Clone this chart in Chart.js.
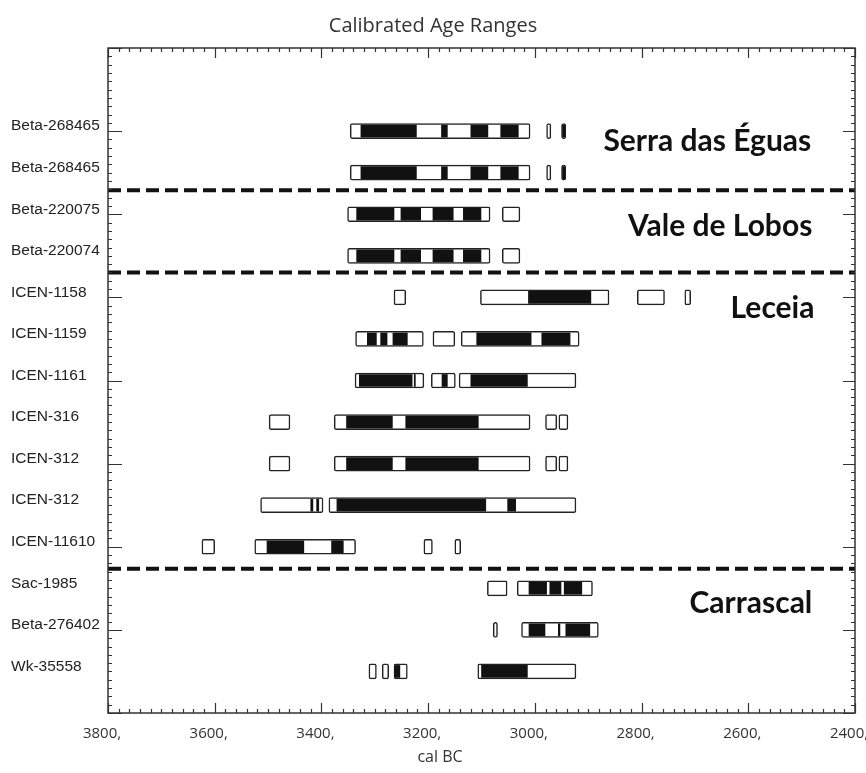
<!DOCTYPE html>
<html>
<head>
<meta charset="utf-8">
<title>Calibrated Age Ranges</title>
<script src="https://cdn.jsdelivr.net/npm/chart.js@4.4.1/dist/chart.umd.min.js"></script>
<style>
  html, body { margin: 0; padding: 0; background: #fff; }
  #wrap { width: 866px; height: 773px; }
</style>
</head>
<body>
<div id="wrap"><canvas id="chart" width="866" height="773"></canvas></div>
<script>
// Laboratory codes, top to bottom
const samples = [
  'Beta-268465', 'Beta-268465', 'Beta-220075', 'Beta-220074',
  'ICEN-1158', 'ICEN-1159', 'ICEN-1161', 'ICEN-316', 'ICEN-312',
  'ICEN-312', 'ICEN-11610', 'Sac-1985', 'Beta-276402', 'Wk-35558'
];

// 2-sigma calibrated ranges (cal BC), one list per sample
const twoSigma = [
  [[3346, 3009], [2978, 2970], [2950, 2942]],
  [[3346, 3009], [2978, 2970], [2950, 2942]],
  [[3351, 3084], [3061, 3028]],
  [[3351, 3084], [3061, 3028]],
  [[3264, 3242], [3102, 2861], [2808, 2757], [2719, 2708]],
  [[3336, 3209], [3191, 3150], [3138, 2917]],
  [[3337, 3208], [3194, 3149], [3142, 2923]],
  [[3498, 3459], [3376, 3009], [2980, 2959], [2955, 2938]],
  [[3498, 3459], [3376, 3009], [2980, 2959], [2955, 2938]],
  [[3514, 3397], [3386, 2923]],
  [[3624, 3600], [3525, 3336], [3208, 3192], [3150, 3139]],
  [[3089, 3052], [3033, 2892]],
  [[3078, 3070], [3025, 2881]],
  [[3311, 3297], [3286, 3274], [3264, 3239], [3107, 2923]]
];

// 1-sigma calibrated ranges (cal BC), one list per sample
const oneSigma = [
  [[3326, 3222], [3175, 3164], [3120, 3088], [3064, 3031], [2948, 2944]],
  [[3326, 3222], [3175, 3164], [3120, 3088], [3064, 3031], [2948, 2944]],
  [[3334, 3264], [3251, 3214], [3191, 3153], [3134, 3101]],
  [[3334, 3264], [3251, 3214], [3191, 3153], [3134, 3101]],
  [[3012, 2895]],
  [[3314, 3297], [3289, 3277], [3266, 3239], [3109, 3007], [2987, 2934]],
  [[3329, 3230], [3226, 3224], [3174, 3164], [3120, 3014]],
  [[3353, 3267], [3242, 3106]],
  [[3353, 3267], [3242, 3106]],
  [[3420, 3416], [3409, 3405], [3371, 3092], [3051, 3036]],
  [[3502, 3433], [3381, 3359]],
  [[3011, 2978], [2972, 2951], [2945, 2912]],
  [[3011, 2981], [2956, 2953], [2942, 2897]],
  [[3262, 3253], [3100, 3014]]
];

// Site names and the sample rows where each section ends
const sites = ['Serra das Éguas', 'Vale de Lobos', 'Leceia', 'Carrascal'];
const sectionBreaks = [2.42, 4.4, 11.53];

// Year axis labels
const yearTicks = [3800, 3600, 3400, 3200, 3000, 2800, 2600, 2400];

// Where the site names sit (row units for baseline, years for right edge)
const siteLabelPos = [
  { y: 1.49, x: 2482 },
  { y: 3.53, x: 2480 },
  { y: 5.49, x: 2476 },
  { y: 12.6, x: 2480 }
];

function toBars(ranges) {
  const out = [];
  ranges.forEach((list, i) => {
    list.forEach(r => out.push({ x: [r[0], r[1]], y: i + 1 }));
  });
  return out;
}

// Axis frame, inward ticks, section dividers and site names
const decorations = {
  id: 'decorations',
  afterDatasetsDraw(chart) {
    const ctx = chart.ctx;
    const ca = chart.chartArea;
    const sx = chart.scales.x, sy = chart.scales.y;
    ctx.save();

    // dashed dividers between sites
    ctx.strokeStyle = '#111';
    ctx.lineWidth = 4;
    ctx.setLineDash([13, 6]);
    sectionBreaks.forEach(v => {
      const py = sy.getPixelForValue(v);
      ctx.beginPath();
      ctx.moveTo(ca.left, py);
      ctx.lineTo(ca.right, py);
      ctx.stroke();
    });
    ctx.setLineDash([]);

    // frame
    ctx.strokeStyle = '#333';
    ctx.lineWidth = 1.5;
    ctx.strokeRect(ca.left, ca.top, ca.right - ca.left, ca.bottom - ca.top);

    // ticks on the year axis (top and bottom), minor every 20 years
    ctx.lineWidth = 1.2;
    ctx.beginPath();
    for (let v = sx.min; v <= sx.max; v += 20) {
      const px = Math.round(sx.getPixelForValue(v)) + 0.5;
      const len = (v % 200 === 0) ? 10 : 4;
      ctx.moveTo(px, ca.top); ctx.lineTo(px, ca.top + len);
      ctx.moveTo(px, ca.bottom); ctx.lineTo(px, ca.bottom - len);
    }
    // ticks on the sample axis (left and right), minor every 0.2 row
    for (let k = sy.min * 5; k <= sy.max * 5; k++) {
      const v = k / 5;
      const py = Math.round(sy.getPixelForValue(v)) + 0.5;
      const major = Number.isInteger(v) && Math.abs(v % 2) === 1;
      const lenL = major ? 14 : 4;
      const lenR = major ? 12 : 4;
      ctx.moveTo(ca.left, py); ctx.lineTo(ca.left + lenL, py);
      ctx.moveTo(ca.right, py); ctx.lineTo(ca.right - lenR, py);
    }
    ctx.stroke();

    // site names
    ctx.fillStyle = '#111';
    ctx.font = 'bold 30px Lato';
    ctx.textAlign = 'right';
    ctx.textBaseline = 'alphabetic';
    sites.forEach((name, i) => {
      const p = siteLabelPos[i];
      ctx.fillText(name, sx.getPixelForValue(p.x), sy.getPixelForValue(p.y));
    });

    // axis title
    ctx.fillStyle = '#333';
    ctx.font = '16px "Open Sans"';
    ctx.textAlign = 'center';
    ctx.textBaseline = 'middle';
    ctx.fillText('cal BC', 440, 757);

    ctx.restore();
  }
};

function draw() {
  new Chart(document.getElementById('chart'), {
    type: 'bar',
    data: {
      datasets: [
        {
          label: '1 sigma',
          data: toBars(oneSigma),
          backgroundColor: '#111',
          borderWidth: 0,
          barThickness: 12,
          grouped: false,
          order: 0
        },
        {
          label: '2 sigma',
          data: toBars(twoSigma),
          backgroundColor: '#fff',
          borderColor: '#222',
          borderWidth: 1.5,
          borderRadius: 2,
          borderSkipped: false,
          barThickness: 15,
          grouped: false,
          order: 1
        }
      ]
    },
    options: {
      indexAxis: 'y',
      responsive: false,
      animation: false,
      layout: { autoPadding: false, padding: { left: 11, right: 11, top: 0, bottom: 0 } },
      plugins: {
        legend: { display: false },
        tooltip: { enabled: false },
        title: {
          display: true,
          text: 'Calibrated Age Ranges',
          color: '#333',
          font: { family: 'Open Sans', size: 20, weight: 'normal' },
          padding: { top: 14, bottom: 10 }
        }
      },
      scales: {
        x: {
          type: 'linear',
          position: 'bottom',
          min: 2400,
          max: 3800,
          reverse: true,
          offset: false,
          grid: { display: false, drawTicks: false, offset: false },
          border: { display: false },
          afterBuildTicks: s => { s.ticks = yearTicks.map(v => ({ value: v })); },
          afterFit: s => { s.height = 60; s.paddingLeft = 0; s.paddingRight = 0; },
          ticks: {
            autoSkip: false,
            maxRotation: 0,
            padding: 12,
            labelOffset: -6,
            color: '#333',
            font: { family: 'Open Sans', size: 15 },
            callback: v => v + ','
          }
        },
        y: {
          type: 'linear',
          position: 'left',
          min: -1,
          max: 15,
          reverse: true,
          offset: false,
          grid: { display: false, drawTicks: false, offset: false },
          border: { display: false },
          afterBuildTicks: s => { s.ticks = samples.map((_, i) => ({ value: i + 1 })); },
          afterFit: s => { s.width = 97; s.paddingTop = 0; s.paddingBottom = 0; },
          ticks: {
            autoSkip: false,
            crossAlign: 'far',
            padding: 0,
            labelOffset: -5,
            color: '#222',
            font: { family: 'Liberation Sans', size: 15.5 },
            callback: v => samples[v - 1] || ''
          }
        }
      }
    },
    plugins: [decorations]
  });
}

Promise.all([
  document.fonts.load('bold 30px Lato', 'Serra das Éguas'),
  document.fonts.load('20px "Open Sans"'),
  document.fonts.load('15.5px "Liberation Sans"')
]).then(draw, draw);
</script>
</body>
</html>
